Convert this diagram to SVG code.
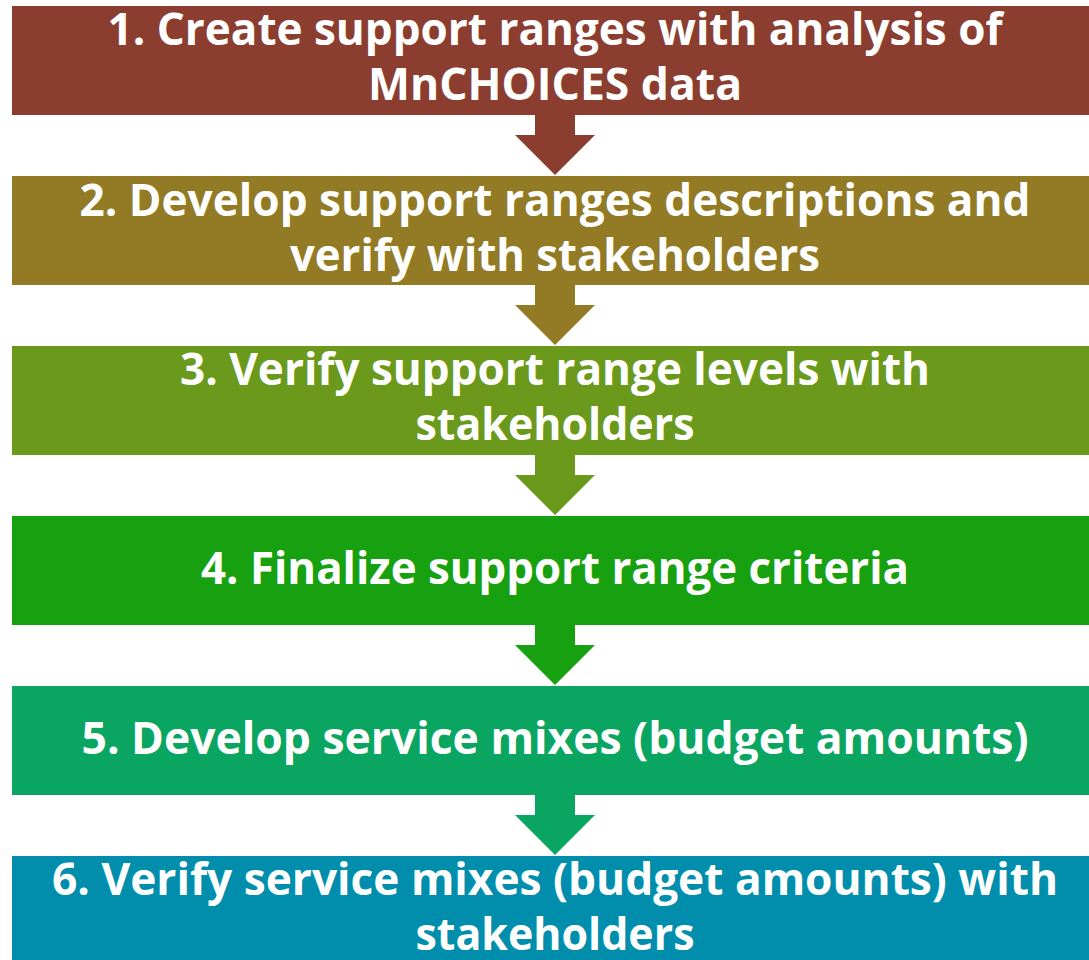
<svg xmlns="http://www.w3.org/2000/svg" width="1089" height="960" viewBox="0 0 1089 960">
<style>
.t{font-family:"Open Sans","Liberation Sans",sans-serif;font-weight:bold;font-size:45px;fill:#fff;text-anchor:middle}
</style>
<rect width="1089" height="960" fill="#fff"/>
<g id="connectors">
<polygon fill="#8B3E2F" points="535,115 575,115 575,135 595,135 555,175 515,135 535,135"/>
<polygon fill="#937A24" points="535,285 575,285 575,305 595,305 555,345 515,305 535,305"/>
<polygon fill="#6B991C" points="535,455 575,455 575,475 595,475 555,515 515,475 535,475"/>
<polygon fill="#17A010" points="535,625 575,625 575,645 595,645 555,685 515,645 535,645"/>
<polygon fill="#0BA562" points="535,795 575,795 575,815 595,815 555,855 515,815 535,815"/>
</g>
<g id="step1">
<rect x="12" y="6" width="1086" height="109" fill="#8B3E2F"/>
<text class="t" x="555" y="45" textLength="895" lengthAdjust="spacingAndGlyphs">1. Create support ranges with analysis of</text>
<text class="t" x="555" y="100" textLength="374" lengthAdjust="spacingAndGlyphs">MnCHOICES data</text>
</g>
<g id="step2">
<rect x="12" y="176" width="1086" height="109" fill="#937A24"/>
<text class="t" x="555" y="216" textLength="951" lengthAdjust="spacingAndGlyphs">2. Develop support ranges descriptions and</text>
<text class="t" x="555" y="271" textLength="530" lengthAdjust="spacingAndGlyphs">verify with stakeholders</text>
</g>
<g id="step3">
<rect x="12" y="346" width="1086" height="109" fill="#6B991C"/>
<text class="t" x="555" y="385" textLength="750" lengthAdjust="spacingAndGlyphs">3. Verify support range levels with</text>
<text class="t" x="555" y="440" textLength="279" lengthAdjust="spacingAndGlyphs">stakeholders</text>
</g>
<g id="step4">
<rect x="12" y="516" width="1086" height="109" fill="#17A010"/>
<text class="t" x="555" y="584" textLength="708" lengthAdjust="spacingAndGlyphs">4. Finalize support range criteria</text>
</g>
<g id="step5">
<rect x="12" y="686" width="1086" height="109" fill="#0BA562"/>
<text class="t" x="555" y="754" textLength="947" lengthAdjust="spacingAndGlyphs">5. Develop service mixes (budget amounts)</text>
</g>
<g id="step6">
<rect x="12" y="856" width="1086" height="110" fill="#008EAC"/>
<text class="t" x="555" y="895" textLength="1006" lengthAdjust="spacingAndGlyphs">6. Verify service mixes (budget amounts) with</text>
<text class="t" x="555" y="950" textLength="279" lengthAdjust="spacingAndGlyphs">stakeholders</text>
</g>
</svg>
